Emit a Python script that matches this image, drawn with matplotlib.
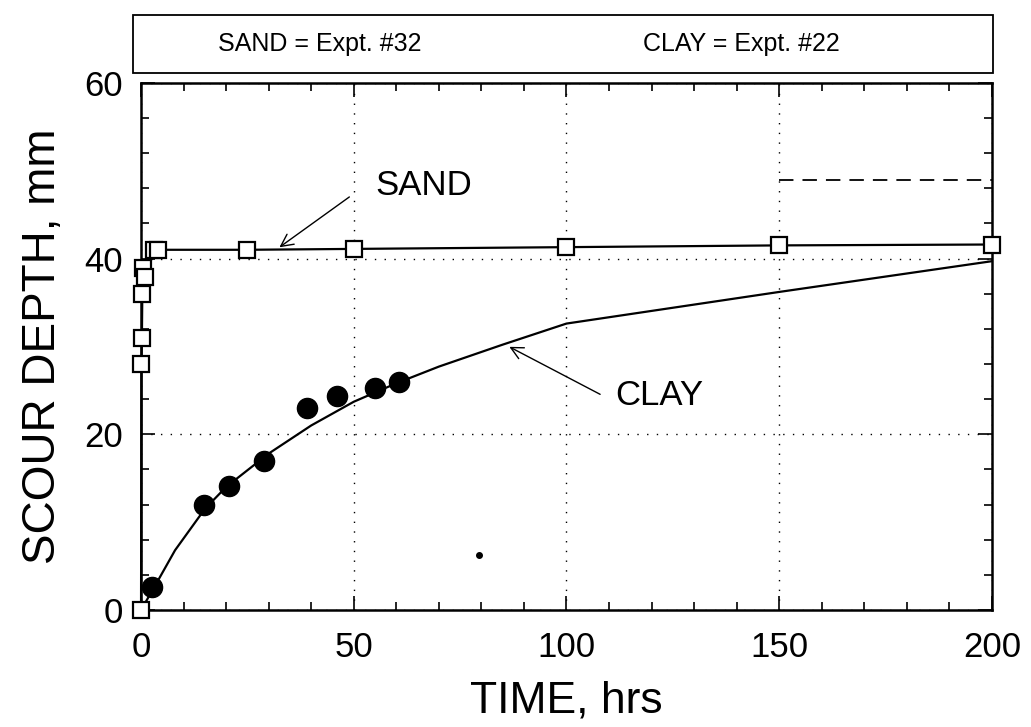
import matplotlib
matplotlib.use("Agg")
import matplotlib.pyplot as plt
from matplotlib.ticker import MultipleLocator
from matplotlib.patches import Rectangle

plt.rcParams["font.family"] = ["Liberation Sans", "DejaVu Sans"]

# Sand experiment #32: measured scour depth (mm) vs time (hrs)
sand_time = [0, 0.1, 0.2, 0.3, 0.4, 1.0, 3.0, 4.0, 25, 50, 100, 150, 200]
sand_depth = [0, 28.0, 31.0, 36.0, 38.9, 37.9, 41.0, 41.0, 41.0, 41.1, 41.3, 41.5, 41.6]

# Clay experiment #22: measured points
clay_time = [2.5, 14.8, 20.7, 28.9, 39.0, 46.0, 55.0, 60.7]
clay_depth = [2.6, 12.0, 14.1, 17.0, 23.0, 24.4, 25.3, 26.0]

# Clay fitted curve
clay_fit_time = [0, 3, 8, 15, 20, 30, 40, 50, 60, 70, 85, 100, 150, 200]
clay_fit_depth = [0, 2.5, 6.8, 11.5, 14.0, 17.8, 21.0, 23.7, 25.8, 27.7, 30.2, 32.6, 36.2, 39.7]

# Equilibrium depth for clay (dashed)
clay_eq_time = [150, 200]
clay_eq_depth = [49, 49]

# Stray point
stray_time = [79.5]
stray_depth = [6.3]

x_ticks = [0, 50, 100, 150, 200]
y_ticks = [0, 20, 40, 60]

fig = plt.figure(figsize=(10.31, 7.27), dpi=100)
ax = fig.add_axes([0.1368, 0.161, 0.962 - 0.1368, 0.886 - 0.161])

ax.plot(clay_fit_time, clay_fit_depth, color="black", lw=1.6, zorder=3)
ax.plot(clay_time, clay_depth, "o", color="black", ms=14.5, zorder=4)
ax.plot(clay_eq_time, clay_eq_depth, color="black", lw=1.3, dashes=(8, 5), zorder=3)
ax.plot(sand_time, sand_depth, color="black", lw=1.6, marker="s", ms=11.5,
        mfc="white", mec="black", mew=1.6, zorder=5, clip_on=False)
ax.plot(stray_time, stray_depth, "o", color="black", ms=4, zorder=3)

ax.set_xlim(0, 200)
ax.set_ylim(0, 60)
ax.set_xticks(x_ticks)
ax.set_yticks(y_ticks)
ax.xaxis.set_minor_locator(MultipleLocator(10))
ax.yaxis.set_minor_locator(MultipleLocator(4))
ax.tick_params(which="both", direction="in", top=True, right=True, width=1.2)
ax.tick_params(which="major", length=10)
ax.tick_params(which="minor", length=6)
ax.tick_params(axis="x", which="major", labelsize=25, pad=15)
ax.tick_params(axis="y", which="major", labelsize=25, pad=13)
for s in ax.spines.values():
    s.set_linewidth(1.8)

ax.grid(True, which="major", color="black", linestyle=(0, (1, 6)), lw=1.0)

ax.set_xlabel("TIME, hrs", fontsize=32, labelpad=12)
ax.set_ylabel("SCOUR DEPTH, mm", fontsize=33, labelpad=14)

ax.annotate("", xy=(32, 41.1), xytext=(49.5, 47.2),
            arrowprops=dict(arrowstyle="->", lw=1.0, color="black", mutation_scale=22))
ax.text(55, 48.3, "SAND", fontsize=25, va="center", ha="left")
ax.annotate("", xy=(86, 30.1), xytext=(108.5, 24.4),
            arrowprops=dict(arrowstyle="->", lw=1.0, color="black", mutation_scale=22))
ax.text(111.5, 24.4, "CLAY", fontsize=25, va="center", ha="left")

# Header box with experiment numbers
box_l, box_r = 133 / 1031, 993 / 1031
box_b, box_t = 1 - 73 / 727, 1 - 15 / 727
fig.patches.append(Rectangle((box_l, box_b), box_r - box_l, box_t - box_b,
                             transform=fig.transFigure, fill=False,
                             edgecolor="black", lw=1.3))
mid_y = (box_b + box_t) / 2
fig.text(218 / 1031, mid_y, "SAND = Expt. #32", fontsize=18, va="center", ha="left")
fig.text(643 / 1031, mid_y, "CLAY = Expt. #22", fontsize=18, va="center", ha="left")

fig.savefig("out.png", dpi=100)
